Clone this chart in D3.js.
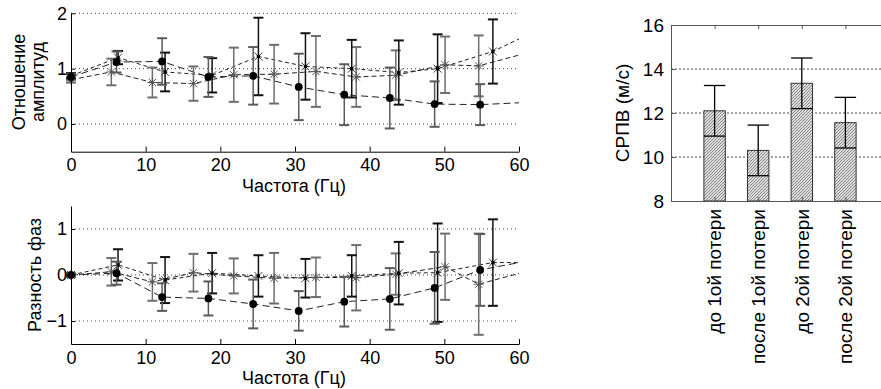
<!DOCTYPE html>
<html>
<head>
<meta charset="utf-8">
<script src="https://cdn.jsdelivr.net/npm/d3@7"></script>
<style>
  body { margin: 0; background: #fff; }
  svg { display: block; font-family: Arial, "Liberation Sans", sans-serif; }
</style>
</head>
<body>
<svg id="chart" width="881" height="389"></svg>
<script>
// frequencies (Hz) for each of the three series
const freqDots = [0, 6.1, 12.2, 18.4, 24.4, 30.5, 36.6, 42.7, 48.7, 54.8, 61];
const freqStars = [0, 5.4, 10.9, 16.4, 21.8, 27.2, 32.8, 38.2, 43.5, 50.1, 54.6, 61.5];
const freqCross = [0, 6.3, 12.6, 18.9, 25.1, 31.4, 37.6, 43.9, 49.1, 56.5, 62.5];

// amplitude ratio
const ampDots = [0.85, 1.12, 1.13, 0.85, 0.87, 0.67, 0.53, 0.47, 0.36, 0.35, 0.39];
const ampDotsErr = [0.05, 0.19, 0.42, 0.36, 0.52, 0.6, 0.55, 0.55, 0.41, 0.37, 0.4];
const ampStars = [0.8, 0.94, 0.75, 0.73, 0.89, 0.9, 0.95, 0.85, 0.88, 1.07, 1.05, 1.3];
const ampStarsErr = [0.05, 0.24, 0.27, 0.31, 0.49, 0.53, 0.64, 0.54, 0.45, 0.51, 0.55, 0.5];
const ampCross = [0.87, 1.2, 0.94, 0.88, 1.22, 1.04, 1.0, 0.93, 1.0, 1.31, 1.7];
const ampCrossErr = [0.05, 0.12, 0.35, 0.31, 0.7, 0.6, 0.52, 0.58, 0.62, 0.58, 0.5];

// phase difference
const phaseDots = [0, 0.04, -0.48, -0.51, -0.63, -0.78, -0.58, -0.52, -0.28, 0.11, 0.3];
const phaseDotsErr = [0.03, 0.25, 0.3, 0.37, 0.53, 0.43, 0.54, 0.67, 0.78, 0.78, 0.6];
const phaseStars = [0, 0.07, -0.15, 0.05, -0.02, -0.07, -0.05, -0.06, 0.02, 0.18, -0.2, 0.1];
const phaseStarsErr = [0.03, 0.3, 0.41, 0.41, 0.38, 0.55, 0.43, 0.71, 0.45, 0.72, 1.1, 0.6];
const phaseCross = [0, 0.22, -0.11, 0.04, -0.02, -0.07, -0.02, 0.04, 0.05, 0.27, 0.27];
const phaseCrossErr = [0.03, 0.34, 0.5, 0.44, 0.45, 0.42, 0.45, 0.68, 1.07, 0.94, 0.75];

// pulse wave velocity bars
const pwvLabels = ['до 1ой потери', 'после 1ой потери', 'до 2ой потери', 'после 2ой потери'];
const pwvValues = [12.1, 10.3, 13.35, 11.56];
const pwvErr = [1.15, 1.15, 1.15, 1.15];

const svg = d3.select('#chart');
const x = d3.scaleLinear().domain([0, 60]).range([71, 519]);
const fontSize = 18;

// hatch fill for the bars
const defs = svg.append('defs');
const hatch = defs.append('pattern')
  .attr('id', 'hatch').attr('patternUnits', 'userSpaceOnUse')
  .attr('width', 3).attr('height', 3);
hatch.append('rect').attr('width', 3).attr('height', 3).attr('fill', '#dedede');
hatch.append('path').attr('d', 'M-1,1 L1,-1 M0,3 L3,0 M2,4 L4,2')
  .attr('stroke', '#7a7a7a').attr('stroke-width', 0.9);

const makeSeries = (freq, vals, errs) => freq.map((f, i) => ({ f, v: vals[i], e: errs[i] }));

const markers = {
  dot: g => g.append('circle').attr('r', 3.9).attr('fill', '#000'),
  star: g => g.append('path')
    .attr('d', 'M-5,0H5M0,-5V5M-3.6,-3.6L3.6,3.6M-3.6,3.6L3.6,-3.6')
    .attr('stroke', '#555').attr('fill', 'none'),
  cross: g => {
    g.append('path').attr('d', 'M-4,-4L4,4M-4,4L4,-4').attr('stroke', '#444').attr('fill', 'none');
    g.append('rect').attr('x', -1.6).attr('y', -1.6).attr('width', 3.2).attr('height', 3.2).attr('fill', '#000');
  }
};

function drawPanel({ id, domain, range, ticks, series, yLabel, yLabelX, yLabelY, xLabelY }) {
  const y = d3.scaleLinear().domain(domain).range(range);
  const g = svg.append('g');

  defs.append('clipPath').attr('id', `clip-${id}`)
    .append('rect').attr('x', x(0)).attr('y', range[1] - 20)
    .attr('width', x(60) - x(0)).attr('height', range[0] - range[1] + 20);

  // dotted grid
  g.selectAll('.grid').data(ticks).join('line')
    .attr('x1', x(0)).attr('x2', x(60))
    .attr('y1', d => y(d)).attr('y2', d => y(d))
    .attr('stroke', '#444').attr('stroke-width', 1).attr('stroke-dasharray', '1,3');

  const line = d3.line().x(d => x(d.f)).y(d => y(d.v));

  series.forEach(s => {
    g.append('path').datum(s.data)
      .attr('clip-path', `url(#clip-${id})`)
      .attr('d', line).attr('fill', 'none')
      .attr('stroke', '#222').attr('stroke-width', 1)
      .attr('stroke-dasharray', s.dash);
  });

  series.forEach(s => {
    const shown = s.data.filter(d => d.f <= 60);
    const eb = g.append('g').attr('stroke', s.errColor).attr('fill', 'none');
    shown.forEach(d => {
      eb.append('line').attr('x1', x(d.f)).attr('x2', x(d.f))
        .attr('y1', y(d.v - d.e)).attr('y2', y(d.v + d.e)).attr('stroke-width', 1.5);
      [d.v - d.e, d.v + d.e].forEach(c => {
        eb.append('line').attr('x1', x(d.f) - 5).attr('x2', x(d.f) + 5)
          .attr('y1', y(c)).attr('y2', y(c)).attr('stroke-width', 2);
      });
    });
    shown.forEach(d => {
      const m = g.append('g').attr('transform', `translate(${x(d.f)},${y(d.v)})`);
      markers[s.marker](m);
    });
  });

  // axes
  g.append('g').attr('transform', `translate(0,${range[0]})`)
    .call(d3.axisBottom(x).tickValues([0, 10, 20, 30, 40, 50, 60])
      .tickSizeInner(-5).tickSizeOuter(0).tickPadding(7))
    .call(a => a.selectAll('text').attr('font-size', fontSize).attr('fill', '#000'))
    .call(a => a.selectAll('line, path').attr('stroke', '#000'));

  g.append('g').attr('transform', `translate(${x(0)},0)`)
    .call(d3.axisLeft(y).tickValues(ticks).tickFormat(d3.format('d'))
      .tickSizeInner(-4).tickSizeOuter(0).tickPadding(4))
    .call(a => a.selectAll('text').attr('font-size', fontSize).attr('fill', '#000'))
    .call(a => a.selectAll('line, path').attr('stroke', '#000'));

  g.append('text').attr('x', 294).attr('y', xLabelY)
    .attr('text-anchor', 'middle').attr('font-size', fontSize).text('Частота (Гц)');

  yLabel.forEach((t, i) => {
    g.append('text')
      .attr('transform', `translate(${yLabelX[i]},${yLabelY}) rotate(-90)`)
      .attr('text-anchor', 'middle').attr('font-size', fontSize).text(t);
  });
}

drawPanel({
  id: 'amp',
  domain: [-0.5, 2],
  range: [151.7, 13.3],
  ticks: [0, 1, 2],
  xLabelY: 192,
  yLabel: ['Отношение', 'амплитуд'],
  yLabelX: [25, 43.5],
  yLabelY: 82,
  series: [
    { data: makeSeries(freqStars, ampStars, ampStarsErr), dash: '5,3', marker: 'star', errColor: '#6e6e6e' },
    { data: makeSeries(freqCross, ampCross, ampCrossErr), dash: '4,3', marker: 'cross', errColor: '#111' },
    { data: makeSeries(freqDots, ampDots, ampDotsErr), dash: '7,4', marker: 'dot', errColor: '#5a5a5a' }
  ]
});

drawPanel({
  id: 'phase',
  domain: [-1.5, 1.5],
  range: [344, 206],
  ticks: [-1, 0, 1],
  xLabelY: 384,
  yLabel: ['Разность фаз'],
  yLabelX: [41],
  yLabelY: 275,
  series: [
    { data: makeSeries(freqStars, phaseStars, phaseStarsErr), dash: '5,3', marker: 'star', errColor: '#6e6e6e' },
    { data: makeSeries(freqCross, phaseCross, phaseCrossErr), dash: '4,3', marker: 'cross', errColor: '#111' },
    { data: makeSeries(freqDots, phaseDots, phaseDotsErr), dash: '7,4', marker: 'dot', errColor: '#5a5a5a' }
  ]
});

// ---- bar chart ----
const xb = d3.scaleLinear().domain([0, 5]).range([671, 889]);
const yb = d3.scaleLinear().domain([8, 16]).range([201, 25]);
const barW = 21.4;
const gb = svg.append('g');

gb.selectAll('.bgrid').data([10, 12, 14]).join('line')
  .attr('x1', xb(0)).attr('x2', xb(5))
  .attr('y1', d => yb(d)).attr('y2', d => yb(d))
  .attr('stroke', '#444').attr('stroke-dasharray', '2,2');

gb.selectAll('.bar').data(pwvValues).join('rect')
  .attr('x', (d, i) => xb(i + 1) - barW / 2)
  .attr('y', d => yb(d))
  .attr('width', barW)
  .attr('height', d => yb(8) - yb(d))
  .attr('fill', 'url(#hatch)')
  .attr('stroke', '#333').attr('stroke-width', 1);

pwvValues.forEach((v, i) => {
  const cx = xb(i + 1);
  const e = pwvErr[i];
  gb.append('line').attr('x1', cx).attr('x2', cx)
    .attr('y1', yb(v - e)).attr('y2', yb(v + e)).attr('stroke', '#000').attr('stroke-width', 1.3);
  [v - e, v + e].forEach(c => {
    gb.append('line').attr('x1', cx - barW / 2).attr('x2', cx + barW / 2)
      .attr('y1', yb(c)).attr('y2', yb(c)).attr('stroke', '#000').attr('stroke-width', 1.3);
  });
});

// frame
gb.append('g').attr('transform', `translate(${xb(0)},0)`)
  .call(d3.axisLeft(yb).tickValues([8, 10, 12, 14, 16])
    .tickSizeInner(-4).tickSizeOuter(0).tickPadding(7))
  .call(a => a.selectAll('text').attr('font-size', 19).attr('fill', '#000'))
  .call(a => a.selectAll('line, path').attr('stroke', '#555'));

gb.append('g').attr('transform', `translate(0,${yb(16)})`)
  .call(d3.axisTop(xb).tickValues([1, 2, 3, 4]).tickFormat('')
    .tickSizeInner(-4).tickSizeOuter(0))
  .call(a => a.selectAll('line, path').attr('stroke', '#555'));

gb.append('g').attr('transform', `translate(0,${yb(8)})`)
  .call(d3.axisBottom(xb).tickValues([1, 2, 3, 4]).tickFormat('')
    .tickSizeInner(-4).tickSizeOuter(0))
  .call(a => a.selectAll('line, path').attr('stroke', '#555'));

gb.selectAll('.blabel').data(pwvLabels).join('text')
  .attr('transform', (d, i) => `translate(${xb(i + 1)},209) rotate(-90)`)
  .attr('dy', '0.36em')
  .attr('text-anchor', 'end')
  .attr('font-size', 19)
  .text(d => d);

gb.append('text')
  .attr('transform', `translate(629,113) rotate(-90)`)
  .attr('text-anchor', 'middle').attr('font-size', 19)
  .text('СРПВ (м/с)');
</script>
</body>
</html>
